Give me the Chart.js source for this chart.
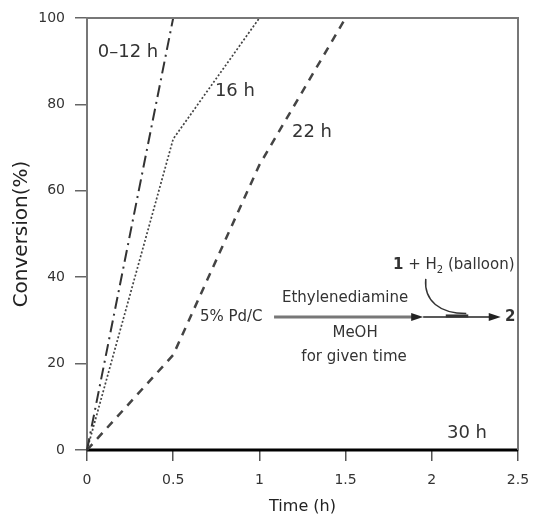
<!DOCTYPE html>
<html>
<head>
<meta charset="utf-8">
<script src="https://cdn.jsdelivr.net/npm/chart.js@4"></script>
<style>
html,body{margin:0;padding:0;background:#fff;}
#wrap{width:533px;height:517px;position:relative;}
</style>
</head>
<body>
<div id="wrap"><canvas id="c" width="533" height="517"></canvas></div>
<script>
// ---- data ----
const time_0_12 = [0, 0.5];
const conv_0_12 = [0, 100];
const time_16 = [0, 0.5, 1.0];
const conv_16 = [0, 72, 100];
const time_22 = [0, 0.5, 1.0, 1.5];
const conv_22 = [0, 22, 66, 100];
const time_30 = [0, 2.5];
const conv_30 = [0, 0];
const xTickLabels = ['0', '0.5', '1', '1.5', '2', '2.5'];
const yTickLabels = ['0', '20', '40', '60', '80', '100'];
const seriesNames = ['0–12 h', '16 h', '22 h', '30 h'];

// annotation labels (data coordinates)
const notes = [
  {text: '0–12 h', x: 0.238, y: 92.0, align: 'center'},
  {text: '16 h', x: 0.858, y: 83.0, align: 'center'},
  {text: '22 h', x: 1.305, y: 73.6, align: 'center'},
  {text: '30 h', x: 2.204, y: 3.9, align: 'center'},
  {text: '5% Pd/C', x: 0.655, y: 30.8, align: 'left'},
  {text: 'Ethylenediamine', x: 1.497, y: 35.2, align: 'center'},
  {text: 'MeOH', x: 1.555, y: 27.1, align: 'center'},
  {text: 'for given time', x: 1.549, y: 21.5, align: 'center'}
];

const toXY = (xs, ys) => xs.map((x, i) => ({x: x, y: ys[i]}));
const FONT = "'DejaVu Sans', 'Liberation Sans', sans-serif";
const TXT = '#333';

const framePlugin = {
  id: 'frame',
  afterDatasetsDraw(chart) {
    const {ctx, chartArea: a, scales: {x, y}} = chart;
    ctx.save();
    // top and right frame lines
    ctx.strokeStyle = '#777';
    ctx.lineWidth = 2;
    ctx.beginPath();
    ctx.moveTo(a.left, a.top);
    ctx.lineTo(a.right, a.top);
    ctx.lineTo(a.right, a.bottom);
    ctx.stroke();

    // text notes
    ctx.fillStyle = TXT;
    ctx.textBaseline = 'middle';
    notes.forEach(n => {
      const big = /h$/.test(n.text);
      ctx.font = (big ? '18px ' : '15px ') + FONT;
      ctx.textAlign = n.align;
      ctx.fillText(n.text, x.getPixelForValue(n.x), y.getPixelForValue(n.y));
    });

    // "1 + H2 (balloon)"
    let px = x.getPixelForValue(1.775), py = y.getPixelForValue(42.8);
    ctx.textAlign = 'left';
    const seg = (t, f, dy) => { ctx.font = f; ctx.fillText(t, px, py + (dy || 0)); px += ctx.measureText(t).width; };
    seg('1', 'bold 15px ' + FONT);
    seg(' + H', '15px ' + FONT);
    seg('2', '10px ' + FONT, 5);
    seg(' (balloon)', '15px ' + FONT);

    // product "2"
    ctx.font = 'bold 15px ' + FONT;
    ctx.textAlign = 'center';
    ctx.fillText('2', x.getPixelForValue(2.455), y.getPixelForValue(30.8));

    // reaction arrow
    const ay = y.getPixelForValue(30.8);
    const x0 = x.getPixelForValue(1.085), x1 = x.getPixelForValue(1.95), x2 = x.getPixelForValue(2.4);
    ctx.strokeStyle = '#777';
    ctx.lineWidth = 3;
    ctx.beginPath(); ctx.moveTo(x0, ay); ctx.lineTo(x1 - 8, ay); ctx.stroke();
    ctx.strokeStyle = '#222';
    ctx.lineWidth = 1.5;
    ctx.beginPath(); ctx.moveTo(x1, ay); ctx.lineTo(x2 - 8, ay); ctx.stroke();
    const head = (hx) => {
      ctx.fillStyle = '#222';
      ctx.beginPath(); ctx.moveTo(hx, ay); ctx.lineTo(hx - 12, ay - 4); ctx.lineTo(hx - 12, ay + 4); ctx.closePath(); ctx.fill();
    };
    head(x1); head(x2);
    // curved arrow from H2 down to the line
    const cx0 = x.getPixelForValue(1.965), cy0 = y.getPixelForValue(39.6);
    const cx1 = x.getPixelForValue(2.2), cy1 = y.getPixelForValue(31.6);
    ctx.strokeStyle = '#333';
    ctx.lineWidth = 1.5;
    ctx.beginPath();
    ctx.moveTo(cx0, cy0);
    ctx.bezierCurveTo(cx0 - 2, cy0 + 22, cx0 + 14, cy1, cx1, cy1);
    ctx.stroke();
    ctx.lineWidth = 3;
    ctx.beginPath(); ctx.moveTo(cx0 + 20, ay - 1); ctx.lineTo(cx1 + 2, ay - 1); ctx.stroke();
    ctx.restore();
  }
};

new Chart(document.getElementById('c'), {
  type: 'line',
  data: {
    datasets: [
      {label: seriesNames[0], data: toXY(time_0_12, conv_0_12), borderColor: '#333', borderWidth: 2, borderDash: [12, 5, 2, 5], pointRadius: 0, fill: false},
      {label: seriesNames[1], data: toXY(time_16, conv_16), borderColor: '#444', borderWidth: 1.7, borderDash: [2, 2], pointRadius: 0, fill: false},
      {label: seriesNames[2], data: toXY(time_22, conv_22), borderColor: '#444', borderWidth: 2.5, borderDash: [8, 7], pointRadius: 0, fill: false},
      {label: seriesNames[3], data: toXY(time_30, conv_30), borderColor: '#000', borderWidth: 3, pointRadius: 0, fill: false}
    ]
  },
  options: {
    responsive: false,
    animation: false,
    clip: false,
    layout: {padding: {top: 18, right: 15, left: 0, bottom: 0}},
    plugins: {legend: {display: false}, tooltip: {enabled: false}},
    scales: {
      x: {
        type: 'linear', min: 0, max: 2.5,
        afterFit(s) { s.height = 67; s.paddingLeft = 0; s.paddingRight = 0; },
        afterBuildTicks(s) { s.ticks = xTickLabels.map(v => ({value: parseFloat(v)})); },
        ticks: {callback: (v, i) => xTickLabels[i], color: TXT, font: {family: FONT, size: 14}, padding: 11, maxRotation: 0},
        grid: {drawOnChartArea: false, drawTicks: true, tickLength: 11, color: '#555', lineWidth: 1.5},
        border: {display: true, color: '#000', width: 2},
        title: {display: true, text: 'Time (h)', color: '#222', font: {family: FONT, size: 16}, padding: {top: 0, bottom: 1}}
      },
      y: {
        type: 'linear', min: 0, max: 100,
        afterFit(s) { s.width = 87; s.paddingTop = 0; s.paddingBottom = 0; },
        afterBuildTicks(s) { s.ticks = yTickLabels.map(v => ({value: parseFloat(v)})); },
        ticks: {callback: (v, i) => yTickLabels[i], color: TXT, font: {family: FONT, size: 14}, padding: 10},
        grid: {drawOnChartArea: false, drawTicks: true, tickLength: 12, color: '#666', lineWidth: 1.5},
        border: {display: true, color: '#777', width: 2},
        title: {display: true, text: 'Conversion(%)', color: '#222', font: {family: FONT, size: 20}, padding: {top: 10, bottom: 0}}
      }
    }
  },
  plugins: [framePlugin]
});
</script>
</body>
</html>
